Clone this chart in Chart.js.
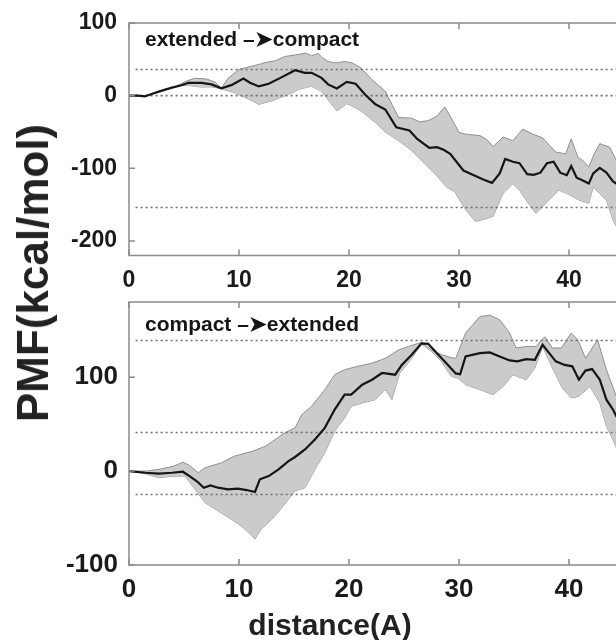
<!DOCTYPE html>
<html>
<head>
<meta charset="utf-8">
<script src="https://cdn.jsdelivr.net/npm/chart.js@4.4.0/dist/chart.umd.min.js"></script>
<style>
  body { margin: 0; background: #fff; overflow: hidden; width: 616px; height: 640px; position: relative;
         font-family: "Liberation Sans", Arial, sans-serif; }
  canvas { position: absolute; left: 0; }
  #c1 { top: 0; }
  #c2 { top: 290px; }
  .lab { position: absolute; font-weight: bold; color: #222; white-space: nowrap; }
  #ylab { font-size: 44px; left: 33px; top: 273px; transform: translate(-50%, -50%) rotate(-90deg); }
  #xlab { font-size: 30px; left: 330px; top: 625px; transform: translate(-50%, -50%); }
</style>
</head>
<body>
<canvas id="c1" width="720" height="295"></canvas>
<canvas id="c2" width="720" height="325"></canvas>
<div class="lab" id="ylab">PMF(kcal/mol)</div>
<div class="lab" id="xlab">distance(A)</div>
<script>
// ---- top panel: extended -> compact  [distance, PMF]
const topMean = [[0,0],[0.8,0],[1.45,-1],[2,2],[2.7,5.5],[3.9,11],[4.7,14],[5.4,17.7],[6.6,17.7],[7.5,15.5],
  [8.4,10],[9.3,14.5],[10.4,23.6],[11,17.7],[11.8,12.7],[12.7,16.4],[13.9,25.5],[15.1,35],[16,31.4],[16.6,31.4],
  [17.5,24.5],[18.1,15.5],[18.9,10],[19.8,19],[20.6,16.4],[21.5,1],[22.4,-11.8],[23.3,-19],[24.3,-43.6],[25.5,-48],
  [26.2,-59.5],[27.3,-72],[28,-71],[28.6,-74.5],[29.2,-80],[30.4,-103],[31.4,-110],[32.2,-115.5],[33,-120],[33.7,-107],
  [34.2,-87],[34.9,-91],[35.5,-93],[36.2,-108],[36.8,-109],[37.4,-106],[38,-93],[38.6,-91],[39.2,-106],[39.8,-109.5],
  [40.2,-97],[40.7,-113],[41.3,-117],[41.8,-121],[42.2,-107],[42.8,-99.5],[43.4,-106],[44,-118],[44.6,-124],[45.2,-126]];
const topUpper = [[0,0],[0.8,0],[1.45,-1],[2.7,5.5],[3.9,11],[4.7,16],[5.2,20],[6,24],[7,23],[7.8,19],[8.4,10.5],
  [9,24],[10,36],[11,40],[11.8,43],[12.5,46],[13.3,48],[14.2,54],[15.1,56],[16.1,58.6],[16.6,55],[17.2,58],[17.6,52],
  [18.1,47],[18.8,45],[19.6,47],[20.3,45],[21.1,38],[22.1,22],[23.3,6],[23.9,-12],[24.5,-30],[25.7,-31],[26.4,-36],
  [27.2,-34.5],[28,-28],[28.7,-15.5],[29.2,-28],[30,-50.5],[30.6,-53],[31.9,-55],[32.5,-60],[33.1,-70],[34,-57],
  [34.9,-62],[35.8,-46],[36.7,-53],[37.6,-58],[38.2,-68],[38.8,-77.7],[39.7,-80],[40.2,-59.5],[40.8,-84.5],[41.3,-90],
  [41.8,-98],[42.3,-80],[42.8,-66],[43.7,-71],[44.3,-89],[45.2,-95]];
const topLower = [[0,0],[0.8,0],[1.45,-1],[2.7,5.5],[3.9,11],[4.7,14],[5.4,14],[6.5,12],[7.5,12],[8.4,9.5],[9.6,4],
  [10.9,-5],[11.8,-12],[13,-7],[14.2,0],[15.1,6],[15.4,8.6],[16.6,13],[17.5,6],[18.3,-9.5],[18.9,-21],[19.8,-11],
  [20.4,-15],[21.1,-21],[22.4,-37],[23.3,-50],[24.5,-62],[25.7,-75.5],[26.9,-93.6],[28.1,-112],[28.8,-125],[29.6,-132],
  [30.6,-157],[31.5,-173],[32.3,-170],[33.1,-166],[34,-134.5],[34.9,-121],[35.5,-130],[36.1,-143.6],[37,-162],
  [37.9,-148],[39.1,-130],[40,-136],[40.9,-143.6],[41.8,-148],[42.2,-125.5],[42.8,-135],[43.4,-143.6],[44,-171],
  [44.3,-180],[45.2,-190]];
const topRefLines = [36, 0, -154];
const topYTicks = [-200, -100, 0, 100];

// ---- bottom panel: compact -> extended
const botMean = [[0,0],[1.5,-1.8],[2.7,-2.8],[3.9,-1.8],[4.9,-0.7],[5.5,-5.3],[6.15,-10.6],[6.8,-17.7],[7.4,-15.2],
  [8.1,-17.7],[9,-19.5],[9.9,-18.8],[10.7,-20.2],[11.45,-22.3],[11.9,-8.8],[12.7,-5.3],[13.6,1.8],[14.5,10.6],[15.1,15],
  [16,23],[16.9,33.6],[17.8,46],[18.7,65.5],[19.6,81.4],[20.2,81.4],[21.2,92],[22.1,97.3],[23,104.4],[24.2,102.6],
  [24.8,113],[25.7,123.8],[26.6,136],[27.2,135.5],[28.1,124],[29,113],[29.7,104],[30.1,103],[30.6,122],[31.9,125.6],
  [32.8,126.3],[33.7,122],[34.6,117.8],[35.3,116.8],[36.1,119.2],[36.9,118.5],[37.6,134.5],[38.2,125.6],[38.8,116.8],
  [39.6,113],[40.3,111.5],[40.9,97.3],[41.5,107],[42.1,108.6],[42.8,97.3],[43.4,76],[44,65.5],[44.3,58.4],[45.2,50]];
const botUpper = [[0,0],[1.5,0],[2.7,1.8],[4,5],[4.9,9.5],[5.5,6],[6.3,-1.8],[6.9,3.5],[8.4,8.8],[9.6,16],[11.2,21],
  [12.4,26.5],[13.3,33.6],[14.2,41],[15.1,46],[15.7,60],[16.6,69],[17.8,86.7],[18.7,102.6],[19.6,108],[20.8,111.5],
  [22.1,115],[23.3,120],[24.5,129],[25.4,132.7],[26.6,137],[27.5,129],[28.4,124],[29.2,121],[29.7,120],[30.6,147],
  [31.9,164.5],[32.8,166],[33.7,161],[34.6,147],[35.2,131],[36.1,132.7],[37,132.7],[37.8,143],[38.5,131],[39.3,131],
  [40.2,147],[40.8,139.8],[41.5,120],[42.6,139.8],[43.4,108],[44.3,79.6],[45.2,65]];
const botLower = [[0,0],[1.5,-3],[2.7,-7],[4.2,-5.3],[5.1,-5.3],[6,-19.5],[6.9,-33.6],[8.1,-42.5],[9.3,-51.3],
  [10.2,-58.4],[11.2,-69],[11.45,-72.5],[12,-62],[13,-51.3],[13.9,-39],[14.5,-30],[15.1,-21],[16,-17.7],[16.9,1.8],
  [17.8,19.5],[18.7,42.5],[19.6,56.6],[20.2,69],[21.2,72.5],[22.4,76],[23.3,86.7],[23.9,76],[24.6,104],[25.7,120],
  [26.6,135.5],[27.5,127.4],[28.4,116.8],[29.3,100.8],[29.9,99],[30.6,92],[31.9,86.7],[33.1,81.4],[34,90],[34.9,102.6],
  [36.1,97.3],[36.9,109.7],[37.6,132.7],[38.5,109.7],[39.4,88.5],[40.2,77.8],[40.9,79.6],[41.9,90],[42.8,72.5],
  [43.4,47.8],[44,33.6],[44.3,24.8],[45.2,15]];
const botRefLines = [139, 41, -25];
const botYTicks = [-100, 0, 100];

const xTicks = [0, 10, 20, 30, 40, 50];
const FONT = '"Liberation Sans", Arial, sans-serif';

const pts = arr => arr.map(p => ({x: p[0], y: p[1]}));

// frame round the plot area with small inward tick marks
const framePlugin = {
  id: 'frame',
  afterDraw(chart) {
    const {ctx, chartArea: a, scales} = chart;
    ctx.save();
    ctx.strokeStyle = '#8a8a8a';
    ctx.lineWidth = 1.5;
    ctx.strokeRect(a.left, a.top, a.right - a.left, a.bottom - a.top);
    ctx.beginPath();
    scales.x.ticks.forEach(t => {
      const px = scales.x.getPixelForValue(t.value);
      ctx.moveTo(px, a.bottom); ctx.lineTo(px, a.bottom - 6);
      ctx.moveTo(px, a.top); ctx.lineTo(px, a.top + 6);
    });
    scales.y.ticks.forEach(t => {
      const py = scales.y.getPixelForValue(t.value);
      ctx.moveTo(a.left, py); ctx.lineTo(a.left + 6, py);
    });
    ctx.stroke();
    ctx.restore();
  }
};

const panelTextPlugin = {
  id: 'panelText',
  afterDraw(chart, args, opts) {
    const {ctx, chartArea: a} = chart;
    ctx.save();
    ctx.font = 'bold 21px ' + FONT;
    ctx.fillStyle = '#151515';
    ctx.textBaseline = 'alphabetic';
    ctx.fillText(opts.text, a.left + opts.dx, a.top + opts.dy);
    ctx.restore();
  }
};

function makePanel(canvasId, mean, upper, lower, refLines, cfg) {
  const datasets = [{
    data: pts(mean), borderColor: '#151515', borderWidth: 2.2, order: 0
  }];
  refLines.forEach(v => datasets.push({
    data: [{x: 0.6, y: v}, {x: 50, y: v}], borderColor: '#6e6e6e', borderWidth: 1.6,
    borderDash: [2, 3], order: 1
  }));
  datasets.push({
    data: pts(upper), borderColor: '#8f8f8f', borderWidth: 1, backgroundColor: '#cbcbcb', fill: '+1', order: 2
  });
  datasets.push({
    data: pts(lower), borderColor: '#8f8f8f', borderWidth: 1, order: 3
  });

  return new Chart(document.getElementById(canvasId), {
    type: 'line',
    data: { datasets: datasets },
    options: {
      responsive: false,
      animation: false,
      layout: { padding: { top: cfg.padTop, right: 41, left: 0, bottom: 0 } },
      elements: { point: { radius: 0 }, line: { tension: 0 } },
      scales: {
        x: {
          type: 'linear', min: 0, max: 50,
          afterBuildTicks: s => { s.ticks = xTicks.map(v => ({value: v})); },
          afterFit: s => { s.height = cfg.xHeight; s.paddingLeft = 0; s.paddingRight = 0; },
          grid: { display: false }, border: { display: false },
          ticks: { font: { family: FONT, size: cfg.fontSize, weight: 'bold' }, color: '#1a1a1a',
                   padding: cfg.xPad, maxRotation: 0 }
        },
        y: {
          min: cfg.yMin, max: cfg.yMax,
          afterBuildTicks: s => { s.ticks = cfg.yTicks.map(v => ({value: v})); },
          afterFit: s => { s.width = 129; s.paddingTop = 0; s.paddingBottom = 0; },
          grid: { display: false }, border: { display: false },
          ticks: { font: { family: FONT, size: cfg.fontSize, weight: 'bold' }, color: '#1a1a1a', padding: cfg.yPad }
        }
      },
      plugins: {
        legend: { display: false },
        tooltip: { enabled: false },
        panelText: { text: cfg.label, dx: 16, dy: cfg.labelDy }
      }
    },
    plugins: [framePlugin, panelTextPlugin]
  });
}

makePanel('c1', topMean, topUpper, topLower, topRefLines, {
  padTop: 23, xHeight: 39.5, xPad: 3, yPad: 4, fontSize: 23, yMin: -220, yMax: 100, yTicks: topYTicks,
  label: 'extended \u2013\u27A4compact', labelDy: 23
});
makePanel('c2', botMean, botUpper, botLower, botRefLines, {
  padTop: 12, xHeight: 50, xPad: 1, yPad: 3, fontSize: 26, yMin: -100, yMax: 180, yTicks: botYTicks,
  label: 'compact \u2013\u27A4extended', labelDy: 29
});
</script>
</body>
</html>
